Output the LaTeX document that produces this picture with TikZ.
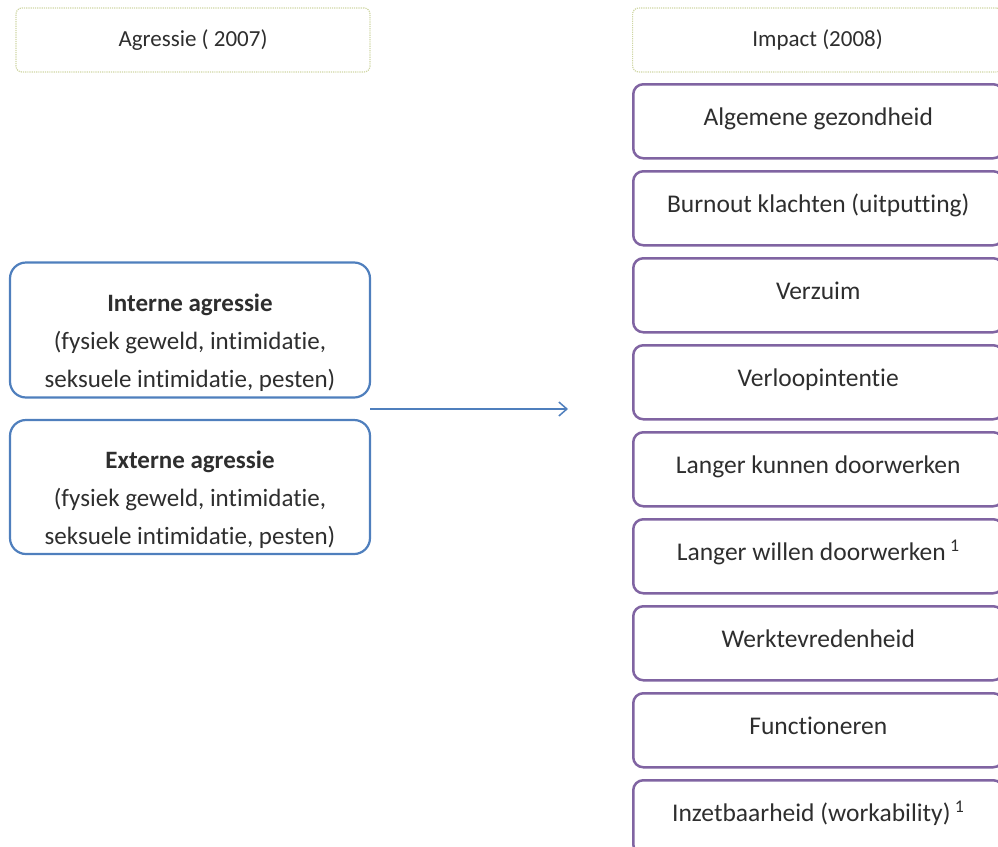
\documentclass[tikz,border=0pt]{standalone}
\usepackage{fontspec}
\setmainfont{Carlito}[Ligatures=NoCommon]
\usetikzlibrary{arrows.meta}
\definecolor{hdr}{HTML}{CFD6A4}
\definecolor{blu}{HTML}{4F7FBD}
\definecolor{pur}{HTML}{8064A2}
\definecolor{txt}{HTML}{2E2E2E}
\tikzset{
  hdrbox/.style={draw=hdr, densely dotted, line width=1.2pt, rounded corners=6pt, text=txt, font=\fontsize{23}{27}\selectfont},
  purbox/.style={draw=pur, line width=2.5pt, rounded corners=10pt, text=txt, font=\fontsize{25.5}{29}\selectfont, text height=17pt, text depth=9pt},
  blubox/.style={draw=blu, line width=2.2pt, rounded corners=16pt},
  blutext/.style={text=txt, align=center, font=\fontsize{25}{38}\selectfont},
}
\begin{document}
\begin{tikzpicture}[x=1pt,y=-1pt]
\useasboundingbox (0,0) rectangle (998,846);
\clip (0,0) rectangle (998,846);
\node[hdrbox, minimum width=354pt, minimum height=64pt] (h1) at (193,40) {Agressie ( 2007)};
\node[hdrbox, minimum width=370pt, minimum height=64pt, anchor=west] (h2) at (632,40) {Impact (2008)};
\foreach \t [count=\i] in {Algemene gezondheid, Burnout klachten (uitputting), Verzuim, Verloopintentie, Langer kunnen doorwerken, Langer willen doorwerken\,\textsuperscript{1}, Werktevredenheid, Functioneren, Inzetbaarheid (workability)\,\textsuperscript{1}} {
  \node[purbox, minimum width=370pt, minimum height=74pt, anchor=north west] (r\i) at (632,{83+87*(\i-1)}) {\t};
}
\node[blubox, minimum width=360pt, minimum height=135pt] (int) at (190,330) {};
\node[blutext] (intt) at ([yshift=-13pt]int.center) {\textbf{Interne agressie}\\(fysiek geweld, intimidatie,\\seksuele intimidatie, pesten)};
\node[blubox, minimum width=360pt, minimum height=134pt] (ext) at (190,487) {};
\node[blutext] (extt) at ([yshift=-13pt]ext.center) {\textbf{Externe agressie}\\(fysiek geweld, intimidatie,\\seksuele intimidatie, pesten)};
\coordinate (a0) at (370,409);
\coordinate (a1) at (568,409);
\draw[blu, line width=1.5pt, -{Straight Barb[length=8pt,width=14pt]}] (a0) -- (a1);
\end{tikzpicture}
\end{document}
